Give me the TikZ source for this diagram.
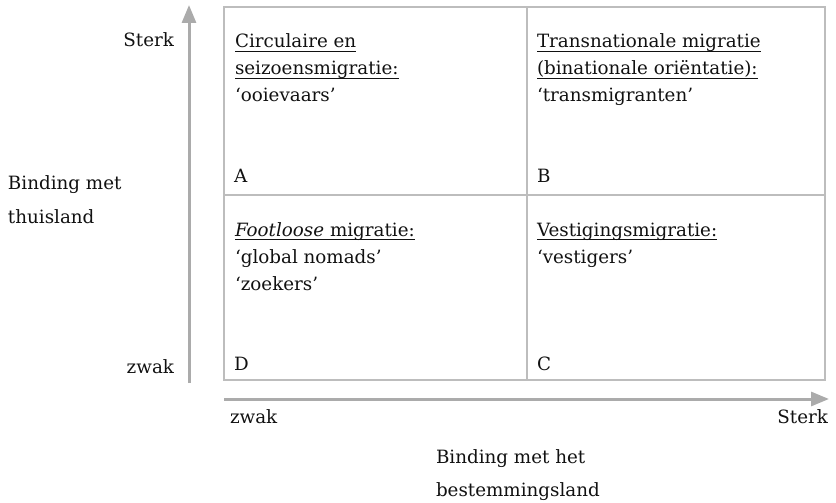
\documentclass[tikz,border=0pt]{standalone}
\usepackage{fontspec}
\setmainfont{DejaVu Serif}
\usetikzlibrary{arrows.meta}
\definecolor{boxgray}{HTML}{BDBDBD}
\definecolor{arrgray}{HTML}{ABABAB}
\definecolor{ink}{HTML}{111111}
\newcommand\ulx[1]{\setbox0\hbox{#1}\rlap{\rule[-4pt]{\wd0}{1.1pt}}\box0}
\newcommand\cellstack[2]{\vtop{\baselineskip=#1\lineskiplimit=-30pt\halign{##\hfil\cr #2\crcr}}}
\tikzset{
  txt/.style={inner sep=0pt, outer sep=0pt, text=ink, font=\fontsize{18.3}{22}\selectfont},
  cell/.style={txt, anchor=base west},
  grid/.style={draw=boxgray, line width=1.6pt},
  axis/.style={draw=arrgray, line width=3pt, -{Triangle[length=18pt,width=14pt]}, arrgray},
}
\begin{document}
\begin{tikzpicture}[x=1pt,y=-1pt]
\useasboundingbox (0,0) rectangle (836,503);
% grid
\coordinate (tl) at (224,7);
\coordinate (br) at (825,380);
\draw[grid] (tl) rectangle (br);
\draw[grid] (527,7) -- (527,380);
\draw[grid] (224,195) -- (825,195);
% axes
\coordinate (yb) at (189,383);
\coordinate (yt) at (189,5);
\coordinate (xl) at (224,399);
\coordinate (xr) at (829,399);
\draw[axis] (yb) -- (yt);
\draw[axis] (xl) -- (xr);
% cell texts
\node[cell] (ta) at (235,48) {\cellstack{27pt}{\ulx{Circulaire en}\cr \ulx{seizoensmigratie:}\cr ‘ooievaars’}};
\node[cell] (la) at (234,182) {A};
\node[cell] (tb) at (537,48) {\cellstack{27pt}{\ulx{Transnationale migratie}\cr \ulx{(binationale oriëntatie):}\cr ‘transmigranten’}};
\node[cell] (lb) at (537,182) {B};
\node[cell] (td) at (235,236) {\cellstack{27pt}{\ulx{\textit{Footloose} migratie:}\cr ‘global nomads’\cr ‘zoekers’}};
\node[cell] (ld) at (234,370) {D};
\node[cell] (tc) at (537,236) {\cellstack{27pt}{\ulx{Vestigingsmigratie:}\cr ‘vestigers’}};
\node[cell] (lc) at (537,370) {C};
% axis labels
\node[txt, anchor=base east] (ys) at (174,47) {Sterk};
\node[txt, anchor=base east] (yw) at (174,373) {zwak};
\node[cell] (yl) at (8,189) {\cellstack{34pt}{Binding met\cr thuisland}};
\node[cell] (xw) at (230,423) {zwak};
\node[txt, anchor=base east] (xs) at (828,423) {Sterk};
\node[cell] (xlab) at (436,463) {\cellstack{33pt}{Binding met het\cr bestemmingsland}};
\end{tikzpicture}
\end{document}
